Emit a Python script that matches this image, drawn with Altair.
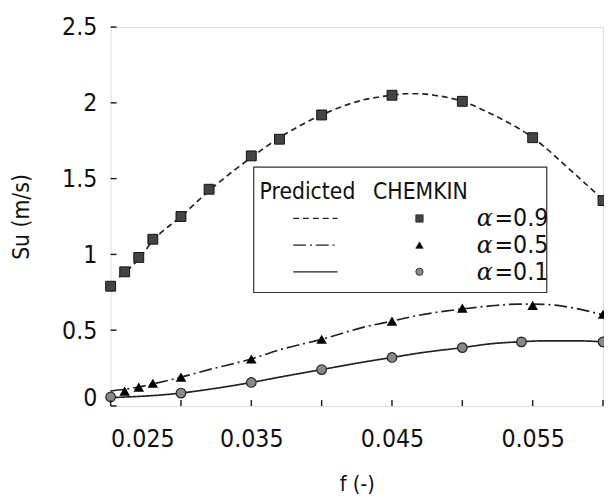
import altair as alt
import pandas as pd

FONT = "DejaVu Sans Condensed"

# CHEMKIN points
x09 = [0.025, 0.026, 0.027, 0.028, 0.030, 0.032, 0.035, 0.037, 0.040, 0.045, 0.050, 0.055, 0.060]
y09 = [0.79, 0.885, 0.98, 1.10, 1.25, 1.43, 1.65, 1.76, 1.92, 2.05, 2.01, 1.77, 1.355]
x05 = [0.026, 0.027, 0.028, 0.030, 0.035, 0.040, 0.045, 0.050, 0.055, 0.060]
y05 = [0.098, 0.124, 0.15, 0.19, 0.31, 0.44, 0.56, 0.645, 0.664, 0.605]
x01 = [0.025, 0.030, 0.035, 0.040, 0.045, 0.050, 0.0542, 0.060]
y01 = [0.059, 0.085, 0.155, 0.24, 0.32, 0.385, 0.423, 0.423]

# Predicted curves
px09 = [0.0256, 0.026, 0.027, 0.028, 0.030, 0.032, 0.035, 0.037, 0.040, 0.043, 0.045, 0.046, 0.047, 0.048, 0.050, 0.052, 0.055, 0.058, 0.060]
py09 = [0.85, 0.88, 0.97, 1.09, 1.25, 1.42, 1.64, 1.77, 1.92, 2.02, 2.05, 2.06, 2.06, 2.05, 2.01, 1.93, 1.77, 1.53, 1.36]
px05 = [0.025, 0.026, 0.027, 0.028, 0.030, 0.032, 0.035, 0.037, 0.040, 0.043, 0.045, 0.047, 0.050, 0.052, 0.054, 0.055, 0.057, 0.058, 0.060]
py05 = [0.10, 0.11, 0.125, 0.145, 0.19, 0.24, 0.31, 0.37, 0.44, 0.52, 0.56, 0.60, 0.64, 0.66, 0.672, 0.672, 0.66, 0.645, 0.60]
px01 = [0.025, 0.030, 0.032, 0.035, 0.037, 0.040, 0.043, 0.045, 0.047, 0.050, 0.052, 0.054, 0.056, 0.058, 0.060]
py01 = [0.055, 0.085, 0.11, 0.155, 0.19, 0.24, 0.29, 0.32, 0.35, 0.385, 0.41, 0.423, 0.43, 0.43, 0.423]

x_ticks = [0.025, 0.030, 0.035, 0.040, 0.045, 0.050, 0.055, 0.060]
x_labels = [0.025, 0.035, 0.045, 0.055]
y_ticks = [0.0, 0.5, 1.0, 1.5, 2.0, 2.5]

W, H = 499, 384
xs = alt.Scale(domain=[0.025, 0.06], nice=False, zero=False)
ys = alt.Scale(domain=[0, 2.5], nice=False)
LINE = "#222222"

def pts(x, y):
    return pd.DataFrame({"x": x, "y": y})

xenc = alt.X("x:Q", scale=xs, axis=alt.Axis(values=x_labels, format=".3f", ticks=False, domain=False, grid=False,
                                             labelFont=FONT, labelFontSize=25, labelColor="#111", labelPadding=21,
                                             title="f (-)", titleFont=FONT, titleFontSize=22, titleFontWeight="normal",
                                             titleColor="#111", titlePadding=23))
yenc = alt.Y("y:Q", scale=ys, axis=alt.Axis(values=y_ticks, format="~g", ticks=False, domain=False, grid=False,
                                            labelFont=FONT, labelFontSize=25, labelColor="#111", labelPadding=14,
                                            labelOffset={"condition": {"test": "datum.value == 0", "value": -8}, "value": 0},
                                            title="Su (m/s)", titleFont=FONT, titleFontSize=23, titleFontWeight="normal",
                                            titleColor="#111", titlePadding=28))

layers = []
# curves
for px, py, dash in [(px09, py09, [6, 4]), (px05, py05, [13, 4, 2, 4]), (px01, py01, [1, 0])]:
    layers.append(alt.Chart(pts(px, py)).mark_line(color=LINE, strokeWidth=1.7, strokeDash=dash,
                                                   interpolate="monotone").encode(x=xenc, y=yenc))
# markers
layers.append(alt.Chart(pts(x09, y09)).mark_point(shape="square", filled=True, fill="#444444", stroke="#111",
                                                   strokeWidth=1, size=100, opacity=1).encode(x=xenc, y=yenc))
layers.append(alt.Chart(pts(x05, y05)).mark_point(shape="triangle-up", filled=True, fill="#000", size=115,
                                                   opacity=1).encode(x=xenc, y=yenc))
layers.append(alt.Chart(pts(x01, y01)).mark_point(shape="circle", filled=True, fill="#888888", stroke="#222",
                                                   strokeWidth=1.2, size=95, opacity=1).encode(x=xenc, y=yenc))
# inward ticks
layers.append(alt.Chart(pd.DataFrame({"x": x_ticks})).mark_rule(color=LINE, strokeWidth=1.5).encode(
    x=alt.X("x:Q", scale=xs), y=alt.value(H), y2=alt.value(H - 6)))
layers.append(alt.Chart(pd.DataFrame({"y": y_ticks})).mark_rule(color=LINE, strokeWidth=1.5).encode(
    y=alt.Y("y:Q", scale=ys), x=alt.value(0), x2=alt.value(6)))

# legend
leg = alt.Chart(pd.DataFrame({"a": [0]}))
layers.append(leg.mark_rect(fill="white", stroke="#333", strokeWidth=1.2).encode(
    x=alt.value(145), x2=alt.value(442), y=alt.value(142), y2=alt.value(269)))
layers.append(leg.mark_text(text="Predicted", font=FONT, fontSize=23, align="left", baseline="middle", color="#111").encode(
    x=alt.value(151), y=alt.value(167)))
layers.append(leg.mark_text(text="CHEMKIN", font=FONT, fontSize=23, align="left", baseline="middle", color="#111").encode(
    x=alt.value(266), y=alt.value(167)))
legend_rows = [("=0.9", [6, 4], "square", "#444444", 194),
               ("=0.5", [13, 4, 2, 4], "triangle-up", "#000000", 221),
               ("=0.1", [1, 0], "circle", "#888888", 248)]
for lab, dash, shape, fill, yy in legend_rows:
    layers.append(leg.mark_rule(color=LINE, strokeWidth=1.3, strokeDash=dash).encode(
        x=alt.value(185), x2=alt.value(230), y=alt.value(yy)))
    layers.append(leg.mark_point(shape=shape, filled=True, fill=fill, stroke="#222", strokeWidth=0.8,
                                 size=55, opacity=1).encode(x=alt.value(313), y=alt.value(yy)))
    layers.append(leg.mark_text(text="α", font="DejaVu Serif", fontStyle="italic", fontSize=24, align="left",
                                baseline="middle", color="#111").encode(x=alt.value(371), y=alt.value(yy + 1)))
    layers.append(leg.mark_text(text=lab, font=FONT, fontSize=25, align="left", baseline="middle",
                                color="#111").encode(x=alt.value(389), y=alt.value(yy)))

chart = alt.layer(*layers).properties(
    width=W, height=H, autosize=alt.AutoSizeParams(type="none"),
    padding={"left": 104, "top": 16, "right": 1, "bottom": 93}
).configure_view(stroke=LINE, strokeWidth=2.5).configure(background="white")

chart.save("out.html", embed_options={"renderer": "svg", "actions": False})
